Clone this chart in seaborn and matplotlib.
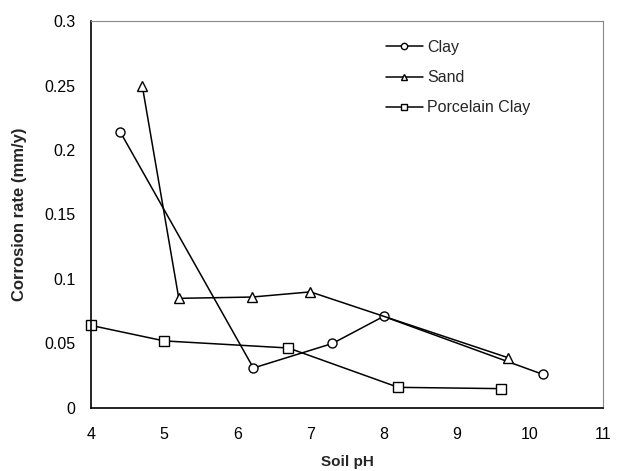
import matplotlib
matplotlib.use("Agg")
import matplotlib.pyplot as plt
import seaborn as sns
import pandas as pd

# Corrosion rate measurements by soil type
clay_ph = [4.4, 6.22, 7.3, 8.0, 10.18]
clay_rate = [0.214, 0.031, 0.050, 0.071, 0.026]

sand_ph = [4.7, 5.2, 6.2, 7.0, 9.7]
sand_rate = [0.250, 0.085, 0.086, 0.090, 0.039]

porcelain_ph = [4.0, 5.0, 6.7, 8.2, 9.6]
porcelain_rate = [0.064, 0.052, 0.0465, 0.016, 0.015]

series_names = ["Clay", "Sand", "Porcelain Clay"]
series_markers = ["o", "^", "s"]

x_ticks = [4, 5, 6, 7, 8, 9, 10, 11]
y_ticks = [0, 0.05, 0.1, 0.15, 0.2, 0.25, 0.3]
y_tick_labels = ["0", "0.05", "0.1", "0.15", "0.2", "0.25", "0.3"]

df = pd.concat([
    pd.DataFrame({"pH": clay_ph, "rate": clay_rate, "soil": series_names[0]}),
    pd.DataFrame({"pH": sand_ph, "rate": sand_rate, "soil": series_names[1]}),
    pd.DataFrame({"pH": porcelain_ph, "rate": porcelain_rate, "soil": series_names[2]}),
], ignore_index=True)

sns.set_style("white")
plt.rcParams["font.family"] = ["Liberation Sans", "DejaVu Sans"]

fig = plt.figure(figsize=(6.22, 4.71), dpi=100)
ax = fig.add_axes([0.1463, 0.1338, 0.8232, 0.8216])

for name, mk in zip(series_names, series_markers):
    sub = df[df["soil"] == name]
    sns.lineplot(data=sub, x="pH", y="rate", ax=ax, color="black",
                 marker=mk, markersize=6.5,
                 markerfacecolor="white", markeredgecolor="black",
                 markeredgewidth=1.0, linewidth=1.1, sort=False,
                 label=name, clip_on=False)

ax.set_xlim(4, 11)
ax.set_ylim(0, 0.3)
ax.set_xticks(x_ticks)
ax.set_xticklabels([str(t) for t in x_ticks])
ax.set_yticks(y_ticks)
ax.set_yticklabels(y_tick_labels)
ax.tick_params(axis="both", length=0, labelsize=11.5, colors="black")
ax.tick_params(axis="x", pad=14)
ax.tick_params(axis="y", pad=11)

for side in ["left", "bottom"]:
    ax.spines[side].set_color("black")
    ax.spines[side].set_linewidth(1.2)
for side in ["top", "right"]:
    ax.spines[side].set_color("#888888")
    ax.spines[side].set_linewidth(0.8)
    ax.spines[side].set_linestyle((0, (1, 1)))

ax.set_xlabel("Soil pH", fontsize=11, fontweight="bold", labelpad=9)
ax.set_ylabel("Corrosion rate (mm/y)", fontsize=12, fontweight="bold", labelpad=13)

leg = ax.legend(loc="upper left", bbox_to_anchor=(0.548, 0.988), frameon=False,
                fontsize=11.5, handlelength=2.3, handletextpad=0.3,
                labelspacing=0.95, markerscale=0.7)

fig.savefig("out.png", dpi=100)
